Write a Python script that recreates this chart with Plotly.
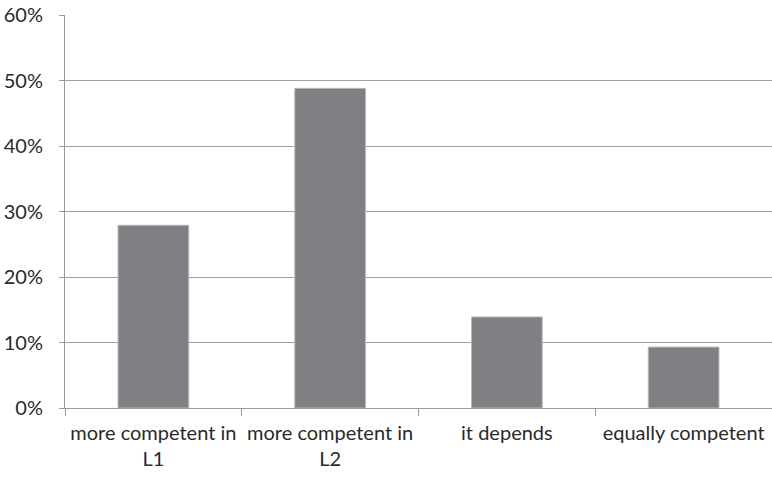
import plotly.graph_objects as go

categories = ["more competent in<br>L1", "more competent in<br>L2", "it depends", "equally competent"]
values = [27.9, 48.8, 13.9, 9.3]
y_ticks = [0, 10, 20, 30, 40, 50, 60]
y_tick_labels = ["0%", "10%", "20%", "30%", "40%", "50%", "60%"]

fig = go.Figure(go.Bar(
    x=categories, y=values,
    marker=dict(color="#7f8084", line=dict(color="#b8b8b8", width=1)),
))

fig.update_layout(
    width=772, height=477,
    margin=dict(l=65, r=0, t=15, b=69),
    paper_bgcolor="white", plot_bgcolor="white",
    bargap=0.6,
    showlegend=False,
    font=dict(family="Lato", size=20, color="#2a2a2a"),
)
fig.update_xaxes(
    type="category",
    showgrid=False,
    showline=True, linecolor="#9a9a9a", linewidth=1,
    ticks="outside", tickson="boundaries", ticklen=7, tickcolor="#9a9a9a",
    ticklabelstandoff=7,
    tickfont=dict(size=20),
)
fig.update_yaxes(
    range=[0, 60],
    tickvals=y_ticks, ticktext=y_tick_labels,
    showgrid=True, gridcolor="#a0a0a0", gridwidth=1,
    showline=True, linecolor="#9a9a9a", linewidth=1,
    ticks="outside", ticklen=5, tickcolor="#9a9a9a",
    ticklabelstandoff=12,
    zeroline=False,
    tickfont=dict(size=20),
)

fig.write_html("out.html")
